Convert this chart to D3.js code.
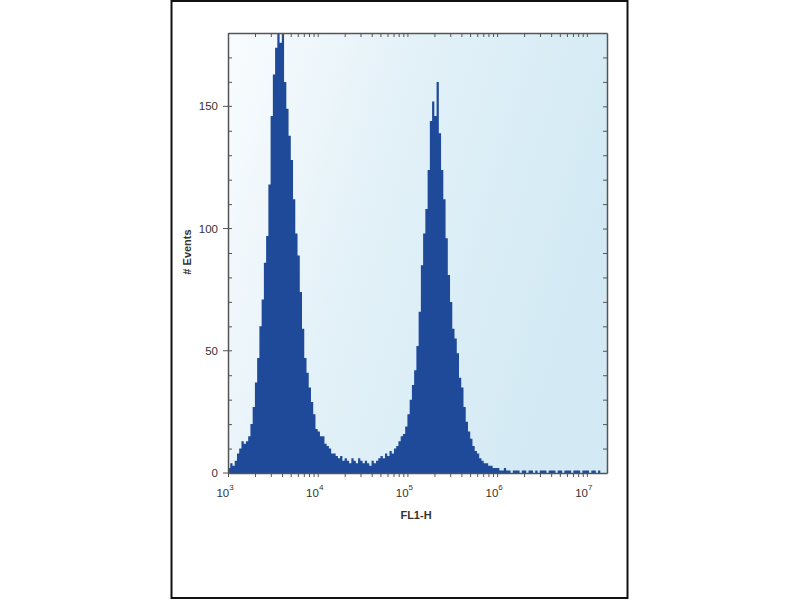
<!DOCTYPE html>
<html>
<head>
<meta charset="utf-8">
<script src="https://cdn.jsdelivr.net/npm/d3@7"></script>
<style>
  body { margin: 0; background: #fff; }
  svg { display: block; font-family: "Liberation Sans", Arial, sans-serif; }
</style>
</head>
<body>
<svg width="800" height="600"></svg>
<script>
// histogram bins: log10(FL1-H) start and width of each bin
var binStartLog = 3;
var binWidthLog = 0.025;

// event counts per bin
var counts = [
  2, 4, 3, 5, 8, 10, 13, 12, 13, 15,
  20, 27, 37, 47, 60, 71, 86, 97, 118, 146,
  163, 174, 184, 176, 181, 160, 149, 138, 128, 112,
  98, 89, 74, 59, 47, 41, 35, 29, 24, 18,
  17, 15, 15, 12, 11, 10, 8, 8, 7, 6,
  7, 5, 6, 5, 4, 6, 5, 4, 6, 5,
  4, 5, 4, 3, 5, 4, 5, 6, 7, 6,
  8, 7, 9, 8, 10, 11, 13, 15, 16, 19,
  24, 30, 36, 42, 52, 66, 85, 98, 108, 124,
  144, 152, 146, 160, 139, 124, 112, 96, 81, 70,
  59, 55, 49, 39, 35, 27, 21, 17, 14, 11,
  9, 8, 6, 5, 4, 4, 3, 3, 2, 2,
  2, 1, 1, 2, 1, 1, 0, 1, 1, 1,
  0, 1, 1, 0, 1, 1, 0, 1, 0, 1,
  1, 1, 0, 1, 1, 1, 0, 1, 1, 0,
  1, 1, 1, 0, 1, 1, 1, 0, 1, 1,
  1, 0, 1, 1, 0, 1, 0, 0, 0
];

var xDomain = [1e3, 16777215];
var yDomain = [0, 180];
var xMajor = [1e3, 1e4, 1e5, 1e6, 1e7];
var xExponents = ["3", "4", "5", "6", "7"];
var yMajor = [0, 50, 100, 150];
var yMinor = [10, 20, 30, 40, 60, 70, 80, 90, 110, 120, 130, 140, 160, 170];
var xTitle = "FL1-H";
var yTitle = "# Events";

var svg = d3.select('svg');

var plotL = 228, plotR = 607, plotT = 33, plotB = 473;

var x = d3.scaleLog().domain(xDomain).range([plotL, plotR]);
var y = d3.scaleLinear().domain(yDomain).range([plotB, plotT]);

// outer frame
svg.append('rect')
  .attr('x', 171.5).attr('y', 1).attr('width', 456).attr('height', 597)
  .attr('fill', '#fff').attr('stroke', '#111').attr('stroke-width', 2);

var defs = svg.append('defs');
var grad = defs.append('linearGradient')
  .attr('id', 'bg').attr('x1', 0).attr('y1', 0).attr('x2', 1).attr('y2', 0.35);
grad.append('stop').attr('offset', '0%').attr('stop-color', '#f9fcfe');
grad.append('stop').attr('offset', '45%').attr('stop-color', '#e3f1f8');
grad.append('stop').attr('offset', '100%').attr('stop-color', '#d3eaf4');

defs.append('clipPath').attr('id', 'plotclip')
  .append('rect').attr('x', plotL).attr('y', plotT)
  .attr('width', plotR - plotL).attr('height', plotB - plotT);

svg.append('rect')
  .attr('x', plotL).attr('y', plotT)
  .attr('width', plotR - plotL).attr('height', plotB - plotT)
  .attr('fill', 'url(#bg)');

// histogram
var bins = counts.map(function (c, i) {
  return {
    x0: Math.pow(10, binStartLog + i * binWidthLog),
    x1: Math.pow(10, binStartLog + (i + 1) * binWidthLog),
    n: c
  };
});

var pts = [];
bins.forEach(function (b) {
  pts.push([b.x0, b.n]);
  pts.push([b.x1, b.n]);
});

var area = d3.area()
  .x(function (d) { return x(d[0]); })
  .y0(y(0))
  .y1(function (d) { return y(d[1]); });

svg.append('path')
  .datum(pts)
  .attr('clip-path', 'url(#plotclip)')
  .attr('d', area)
  .attr('fill', '#1e4a99');

// minor log ticks
var xMinor = [];
[1e3, 1e4, 1e5, 1e6, 1e7].forEach(function (p) {
  for (var k = 2; k <= 9; k++) {
    if (p * k <= xDomain[1]) xMinor.push(p * k);
  }
});
var xAll = xMajor.concat(xMinor);

var axisColor = '#555';

function styleAxis(g) {
  g.select('.domain').attr('stroke', axisColor).attr('stroke-width', 1.5);
  g.selectAll('.tick line').attr('stroke', axisColor);
}

// bottom axis (outward ticks)
svg.append('g')
  .attr('transform', 'translate(0,' + plotB + ')')
  .call(d3.axisBottom(x).tickValues(xAll).tickFormat('').tickSize(4).tickSizeOuter(0))
  .call(styleAxis);

// top axis (inward ticks)
svg.append('g')
  .attr('transform', 'translate(0,' + plotT + ')')
  .call(d3.axisTop(x).tickValues(xAll).tickFormat('').tickSize(-4).tickSizeOuter(0))
  .call(styleAxis);

// left axis: minor inward ticks, major crossing ticks
svg.append('g')
  .attr('transform', 'translate(' + plotL + ',0)')
  .call(d3.axisLeft(y).tickValues(yMinor).tickFormat('').tickSize(-4).tickSizeOuter(0))
  .call(styleAxis);

svg.append('g')
  .selectAll('line')
  .data(yMajor)
  .enter()
  .append('line')
  .attr('x1', plotL - 5).attr('x2', plotL + 4)
  .attr('y1', function (d) { return y(d); })
  .attr('y2', function (d) { return y(d); })
  .attr('stroke', axisColor);

svg.append('g')
  .selectAll('text')
  .data(yMajor)
  .enter()
  .append('text')
  .attr('x', plotL - 10)
  .attr('y', function (d) { return y(d) + 4; })
  .attr('text-anchor', 'end')
  .attr('font-size', 11.5)
  .attr('fill', '#333')
  .text(function (d) { return d; });

// right axis (inward ticks)
svg.append('g')
  .attr('transform', 'translate(' + plotR + ',0)')
  .call(d3.axisRight(y).tickValues(yMajor.concat(yMinor)).tickFormat('').tickSize(-4).tickSizeOuter(0))
  .call(styleAxis);

// x tick labels with superscript exponents
var xl = svg.append('g')
  .selectAll('text')
  .data(xMajor)
  .enter()
  .append('text')
  .attr('x', function (d) { return x(d) - 3; })
  .attr('y', 497)
  .attr('text-anchor', 'middle')
  .attr('font-size', 11.5)
  .attr('fill', '#333');
xl.append('tspan').text('10');
xl.append('tspan')
  .attr('dy', -7)
  .attr('font-size', 8)
  .text(function (d, i) { return xExponents[i]; });

// axis titles
svg.append('text')
  .attr('x', 416).attr('y', 519)
  .attr('text-anchor', 'middle')
  .attr('font-size', 11)
  .attr('font-weight', 'bold')
  .attr('fill', '#333')
  .text(xTitle);

svg.append('text')
  .attr('transform', 'translate(191,252) rotate(-90)')
  .attr('text-anchor', 'middle')
  .attr('font-size', 11)
  .attr('font-weight', 'bold')
  .attr('fill', '#333')
  .text(yTitle);
</script>
</body>
</html>
